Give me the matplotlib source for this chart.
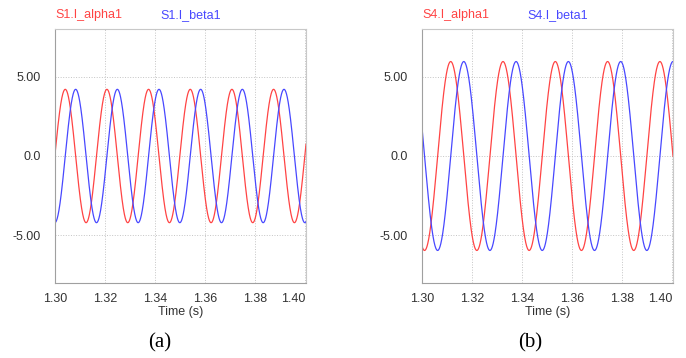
import numpy as np
import matplotlib.pyplot as plt

# values
panels = ["S1", "S4"]
captions = ["(a)", "(b)"]
amplitude = [4.2, 5.95]             # A, peak current
freq_hz = [60.0, 47.8]              # fundamental frequency
alpha_peak_t = [1.3041, 1.31148]    # time of a peak of I_alpha (s)
beta_lag_deg = [90.0, 90.0]         # I_beta lags I_alpha
start_value = [0.0, 0.0]            # first stored sample at t = 1.30
t_start, t_end = 1.30, 1.4004

x_ticks = [1.30, 1.32, 1.34, 1.36, 1.38, 1.40]
x_tick_labels = ["1.30", "1.32", "1.34", "1.36", "1.38", "1.40"]
y_ticks = [-5.0, 0.0, 5.0]
y_tick_labels = ["-5.00", "0.0", "5.00"]
y_lim = (-8.0, 8.0)

RED = "#ff4444"
BLUE = "#4848ff"

plt.rcParams["font.family"] = ["Liberation Sans", "DejaVu Sans"]


def main():
    fig = plt.figure(figsize=(6.86, 3.58), dpi=100)
    lefts = [55 / 686, 422 / 686]
    cap_x = [160 / 686, 530 / 686]

    for i, name in enumerate(panels):
        ax = fig.add_axes([lefts[i], 75 / 358, 251 / 686, 254 / 358])

        t = np.linspace(t_start, t_end, 3000)
        w = 2 * np.pi * freq_hz[i]
        i_alpha = amplitude[i] * np.cos(w * (t - alpha_peak_t[i]))
        i_beta = amplitude[i] * np.cos(w * (t - alpha_peak_t[i]) - np.radians(beta_lag_deg[i]))
        t = np.concatenate([[t_start], t])
        i_alpha = np.concatenate([[start_value[i]], i_alpha])
        i_beta = np.concatenate([[start_value[i]], i_beta])

        ax.plot(t, i_alpha, color=RED, lw=0.9)
        ax.plot(t, i_beta, color=BLUE, lw=0.9)

        ax.set_xlim(t_start, t_end)
        ax.set_ylim(*y_lim)
        ax.set_xticks(x_ticks)
        ax.set_xticklabels(x_tick_labels)
        ax.get_xticklabels()[-1].set_horizontalalignment("right")
        ax.set_yticks(y_ticks)
        ax.set_yticklabels(y_tick_labels)
        ax.tick_params(length=0, labelsize=9, labelcolor="#333333")
        ax.tick_params(axis="x", pad=7)
        ax.tick_params(axis="y", pad=10)
        ax.grid(True, linestyle=":", color="#c4c4c4", lw=0.7)

        for side in ["left", "bottom"]:
            ax.spines[side].set_color("#a0a0a0")
        for side in ["top", "right"]:
            ax.spines[side].set_color("#c8c8c8")

        ax.set_xlabel("Time (s)", fontsize=9, color="#333333", labelpad=1)

        ax.text(0, 1.055, f"{name}.I_alpha1", color=RED, fontsize=9,
                transform=ax.transAxes, va="center", ha="left")
        ax.text(0.418, 1.055, f"{name}.I_beta1", color=BLUE, fontsize=9,
                transform=ax.transAxes, va="center", ha="left")

        fig.text(cap_x[i], 1 - 343 / 358, captions[i], fontsize=15,
                 family=["Liberation Serif", "DejaVu Serif"],
                 ha="center", va="center")

    fig.savefig("out.png", dpi=100)
    plt.close(fig)


if __name__ == "__main__":
    main()
